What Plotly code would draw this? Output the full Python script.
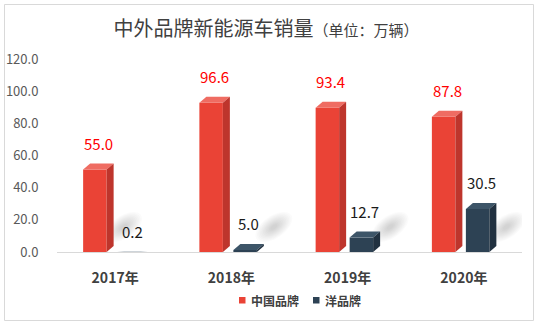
import numpy as np
import plotly.graph_objects as go

# ---------------- data ----------------
categories = ["2017年", "2018年", "2019年", "2020年"]
series_names = ["中国品牌", "洋品牌"]
china_sales = [55.0, 96.6, 93.4, 87.8]
foreign_sales = [0.2, 5.0, 12.7, 30.5]
y_ticks = [0, 20, 40, 60, 80, 100, 120]
title_main = "中外品牌新能源车销量"
title_unit = "（单位：万辆）"

# ---------------- geometry (pixels) ----------------
W, H = 539, 325
L, R, T, B = 57, 522, 59, 252
YMAX = 120
XPX = (R - L) / len(categories)
YPX = (B - T) / YMAX
FW = 23.5 / XPX          # front face width (x units)
DX = 7 / XPX             # 3D depth, horizontal
DY = 6 / YPX             # 3D depth, vertical
offsets = [-32 / XPX, 2 / XPX]

FONT = "Microsoft YaHei, Noto Sans CJK SC, sans-serif"
styles = [
    dict(front="#EA4336", side="#BE352C", top="#EF6C62", label="#FF0000"),
    dict(front="#2D4254", side="#213140", top="#3D5568", label="#1A1A1A"),
]


def px_x(p):
    return (p - L) / (R - L)


def px_y(p):
    return (B - p) / (B - T)


fig = go.Figure()
shapes = []
annotations = []
xs = np.arange(len(categories))

# soft diagonal shadows (drawn below the bars)
ang = np.deg2rad(35)
t = np.linspace(0, 2 * np.pi, 40)
for i in xs:
    if foreign_sales[i] > DY:
        anchor = xs[i] + offsets[1] + FW + DX
    else:
        anchor = xs[i] + offsets[0] + FW + DX
    cx = anchor + 10 / XPX
    cy = 25 / YPX
    for k in range(11):
        a = 21 - 1.7 * k
        b = 11 - 0.9 * k
        ex = a * np.cos(t)
        ey = b * np.sin(t)
        rx = ex * np.cos(ang) - ey * np.sin(ang)
        ry = ex * np.sin(ang) + ey * np.cos(ang)
        pts = [f"{cx + u / XPX},{cy + v / YPX}" for u, v in zip(rx, ry)]
        shapes.append(dict(type="path", xref="x", yref="y", layer="below",
                           path="M " + " L ".join(pts) + " Z",
                           fillcolor="rgba(80,80,80,0.025)", line=dict(width=0)))

for s, vals in enumerate([china_sales, foreign_sales]):
    vals = np.array(vals, dtype=float)
    st = styles[s]
    ftop = np.maximum(vals - DY, 0)
    btop = np.maximum(vals, ftop)
    left = xs + offsets[s]
    fig.add_trace(go.Bar(
        x=left + FW / 2, y=ftop, width=FW, name=series_names[s],
        marker=dict(color=st["front"], line=dict(width=0)),
        showlegend=False, hoverinfo="skip"))
    for i in range(len(xs)):
        xl = left[i]
        xr = xl + FW
        d = btop[i] - ftop[i]
        shapes.append(dict(
            type="path", xref="x", yref="y", layer="above",
            path=f"M {xl},{ftop[i]} L {xr},{ftop[i]} L {xr + DX},{btop[i]} L {xl + DX},{btop[i]} Z",
            fillcolor=st["top"], line=dict(width=0)))
        shapes.append(dict(
            type="path", xref="x", yref="y", layer="above",
            path=f"M {xr},0 L {xr},{ftop[i]} L {xr + DX},{btop[i]} L {xr + DX},{d} Z",
            fillcolor=st["side"], line=dict(width=0)))
        annotations.append(dict(
            x=xl + (FW + DX) / 2, y=vals[i], xref="x", yref="y",
            text=f"{vals[i]:.1f}", showarrow=False, yanchor="bottom", yshift=8,
            font=dict(family=FONT, size=15, color=st["label"])))

# legend (swatch + text)
legend_x = [239, 313]
for s, name in enumerate(series_names):
    shapes.append(dict(type="rect", xref="paper", yref="paper",
                       x0=px_x(legend_x[s]), x1=px_x(legend_x[s] + 6.5),
                       y0=px_y(303.5), y1=px_y(297),
                       fillcolor=styles[s]["front"], line=dict(width=0)))
    annotations.append(dict(x=px_x(legend_x[s] + 9.5), y=px_y(300.5),
                            xref="paper", yref="paper", xanchor="left", yanchor="middle",
                            text=name, showarrow=False,
                            font=dict(family=FONT, size=12, color="#404040", weight="bold")))

# chart border
shapes.append(dict(type="rect", xref="paper", yref="paper",
                   x0=px_x(4.5), x1=px_x(533.5), y0=px_y(320.5), y1=px_y(4.5),
                   line=dict(color="#D9D9D9", width=1), fillcolor="rgba(0,0,0,0)",
                   layer="below"))

fig.update_layout(
    width=W, height=H,
    margin=dict(l=L, r=W - R, t=T, b=H - B),
    paper_bgcolor="white", plot_bgcolor="white",
    barmode="overlay",
    showlegend=False,
    title=dict(
        text=f"{title_main}<span style='font-size:15px'>{title_unit}</span>",
        xref="container", x=266 / W, xanchor="center",
        yref="container", y=1 - 29 / H, yanchor="middle",
        font=dict(family=FONT, size=20, color="#404040")),
    xaxis=dict(range=[-0.5, len(categories) - 0.5], tickvals=list(xs), ticktext=categories,
               showgrid=False, zeroline=False, showline=True, linecolor="#D9D9D9",
               linewidth=1, ticks="", ticklabelstandoff=13, automargin=False,
               tickfont=dict(family=FONT, size=14, color="#404040", weight="bold")),
    yaxis=dict(range=[0, YMAX], tickvals=y_ticks, tickformat=".1f",
               showgrid=False, zeroline=False, showline=False,
               ticks="outside", ticklen=15, tickcolor="rgba(0,0,0,0)",
               automargin=False,
               tickfont=dict(family=FONT, size=13, color="#595959")),
    shapes=shapes,
    annotations=annotations,
)

fig.write_html("out.html")
